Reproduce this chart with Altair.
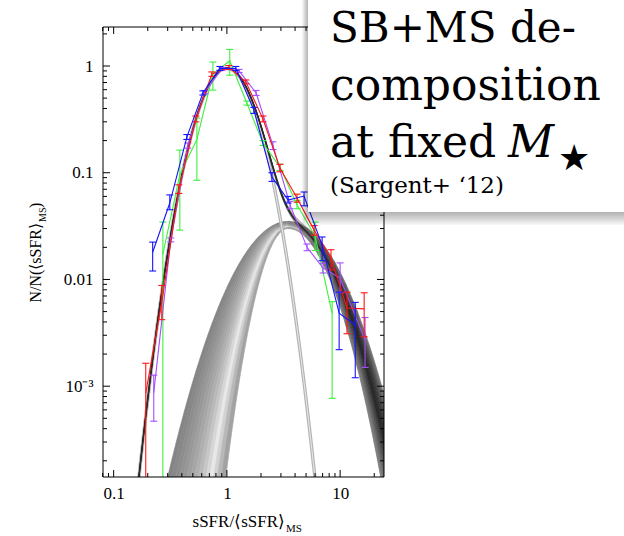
import numpy as np
import pandas as pd
import altair as alt

# ---------------- measured sSFR distributions ----------------
# x = sSFR/<sSFR>_MS, y = N/N(<sSFR>_MS), lo/hi = error-bar ends
blue_x  = [0.221, 0.313, 0.443, 0.614, 0.867, 1.20, 1.73, 2.50, 3.47, 4.80, 6.93, 9.8, 13.6]
blue_y  = [0.018, 0.052, 0.216, 0.56, 0.95, 0.95, 0.387, 0.091, 0.0555, 0.0605, 0.021, 0.00484, 0.00374]
blue_lo = [0.012, 0.045, 0.205, 0.535, 0.91, 0.91, 0.36, 0.083, 0.052, 0.049, 0.015, 0.0022, 0.0012]
blue_hi = [0.0224, 0.062, 0.228, 0.585, 0.99, 0.99, 0.41, 0.100, 0.060, 0.066, 0.025, 0.0076, 0.0061]

red_x  = [0.192, 0.266, 0.376, 0.532, 0.736, 1.04, 1.47, 2.08, 2.94, 4.16, 5.89, 8.3, 11.5, 16.3]
red_y  = [8.6e-4, 0.0061, 0.070, 0.32, 0.84, 0.97, 0.71, 0.32, 0.111, 0.058, 0.029, 0.0159, 0.0054, 0.0053]
red_lo = [1e-6, 0.0042, 0.064, 0.30, 0.80, 0.93, 0.68, 0.30, 0.102, 0.053, 0.026, 0.0123, 0.0031, 0.0029]
red_hi = [1.64e-3, 0.0088, 0.077, 0.34, 0.88, 1.01, 0.74, 0.34, 0.120, 0.063, 0.032, 0.019, 0.0076, 0.0075]

green_x  = [0.272, 0.384, 0.543, 0.752, 1.06, 1.50, 2.08, 2.94, 4.16, 6.01, 8.5]
green_y  = [0.0173, 0.096, 0.205, 0.84, 1.12, 0.45, 0.19, 0.113, 0.050, 0.0255, 0.0048]
green_lo = [1e-6, 0.029, 0.085, 0.595, 0.82, 0.43, 0.18, 0.105, 0.046, 0.0187, 7.7e-4]
green_hi = [0.0345, 0.163, 0.325, 1.09, 1.43, 0.47, 0.20, 0.120, 0.055, 0.0345, 0.0062]

purple_x  = [0.226, 0.319, 0.452, 0.638, 0.903, 1.28, 1.81, 2.55, 3.61, 5.1, 7.07, 10.0, 16.6]
purple_y  = [8.7e-4, 0.0234, 0.18, 0.57, 0.94, 0.90, 0.56, 0.18, 0.050, 0.020, 0.0128, 0.0103, 0.0027]
purple_lo = [4.7e-4, 0.0225, 0.17, 0.55, 0.91, 0.87, 0.53, 0.165, 0.046, 0.0186, 0.0115, 0.0075, 0.0015]
purple_hi = [1.27e-3, 0.0245, 0.19, 0.59, 0.97, 0.93, 0.59, 0.195, 0.054, 0.0215, 0.0142, 0.0143, 0.0044]

# ---------------- model components (log-normal in sSFR) ----------------
ms_peak, ms_amp, ms_sigma = 1.0, 0.95, 0.185          # main sequence, sigma in dex
sb_peak = 3.47                                         # starburst peak position
sb_amp       = [0.0350, 0.0347, 0.0343, 0.0340, 0.0337, 0.0333, 0.0330, 0.0327,
                0.0323, 0.0320, 0.0317, 0.0313, 0.0310, 0.0307, 0.0303, 0.0300]
sb_sig_left  = [0.320, 0.310, 0.300, 0.290, 0.280, 0.270, 0.260, 0.250,
                0.240, 0.230, 0.220, 0.210, 0.200, 0.190, 0.179, 0.168]
sb_sig_right = [0.310, 0.306, 0.302, 0.298, 0.294, 0.290, 0.286, 0.282,
                0.278, 0.274, 0.270, 0.266, 0.262, 0.258, 0.254, 0.250]
# grey shading of the starburst ribbon, outer -> inner strip
shade_left  = ["#848484", "#888888", "#8d8d8d", "#929292", "#989898", "#9f9f9f", "#a6a6a6", "#afafaf",
               "#b9b9b9", "#c6c6c6", "#d6d6d6", "#e8e8e8", "#d2d2d2", "#b8b8b8", "#a2a2a2"]
shade_right = ["#8c8c8c", "#7a7a7a", "#686868", "#585858", "#4a4a4a", "#3e3e3e", "#343434", "#2e2e2e",
               "#343434", "#3e3e3e", "#4c4c4c", "#5c5c5c", "#6c6c6c", "#7c7c7c", "#8c8c8c"]

# ---------------- axes ----------------
x_major = [0.1, 1, 10]
x_minor = [0.08, 0.09, 0.2, 0.3, 0.4, 0.5, 0.6, 0.7, 0.8, 0.9, 2, 3, 4, 5, 6, 7, 8, 9, 20]
y_major = [0.001, 0.01, 0.1, 1]
y_minor = [2e-4, 3e-4, 4e-4, 5e-4, 6e-4, 7e-4, 8e-4, 9e-4,
           2e-3, 3e-3, 4e-3, 5e-3, 6e-3, 7e-3, 8e-3, 9e-3,
           0.02, 0.03, 0.04, 0.05, 0.06, 0.07, 0.08, 0.09,
           0.2, 0.3, 0.4, 0.5, 0.6, 0.7, 0.8, 0.9, 2]
X_DOM = [0.0805, 24.4]
Y_DOM = [1.41e-4, 2.32]
W, H = 281, 450
SERIF = "Liberation Serif, Times New Roman, serif"
SLAB = "DejaVu Serif"


def lognormal(x, peak, amp, sig_l, sig_r):
    d = np.log10(x) - np.log10(peak)
    s = np.where(d < 0, sig_l, sig_r)
    return amp * np.exp(-0.5 * (d / s) ** 2)


def blend(c1, c2, w):
    a = [int(c1[k:k + 2], 16) for k in (1, 3, 5)]
    b = [int(c2[k:k + 2], 16) for k in (1, 3, 5)]
    return "#%02x%02x%02x" % tuple(int(round(p + (q - p) * w)) for p, q in zip(a, b))


lg = np.linspace(-1.12, 1.42, 509)
xs = 10 ** lg
ms = lognormal(xs, ms_peak, ms_amp, ms_sigma, ms_sigma)
sb = [lognormal(xs, sb_peak, a, sl, sr) for a, sl, sr in zip(sb_amp, sb_sig_left, sb_sig_right)]

# starburst ribbon: strips between neighbouring curves, coloured along x
seg_edges = [-1.12, 0.45, 0.55, 0.65, 0.75, 0.85, 0.95, 1.05, 1.15, 1.42]
rows = []
for i in range(len(sb) - 1):
    for j in range(len(seg_edges) - 1):
        b0, b1 = seg_edges[j], seg_edges[j + 1]
        idx = np.where((lg >= b0 - 0.006) & (lg <= b1 + 0.006))[0]
        mid = 0.5 * (b0 + b1)
        w = min(max((mid - 0.45) / 0.6, 0.0), 1.0)
        col = blend(shade_left[i], shade_right[i], w)
        for k in idx:
            hi_v, lo_v = sb[i][k], sb[i + 1][k]
            if hi_v < 1e-5:
                continue
            rows.append({"x": xs[k], "hi": hi_v, "lo": max(lo_v, 1e-7),
                         "key": f"{i:02d}-{j:02d}", "col": col})
strips = pd.DataFrame(rows)

tot_rows = []
for i, curve in enumerate(sb):
    tot = ms + curve
    for k in range(len(xs)):
        if tot[k] > 1e-5:
            tot_rows.append({"x": xs[k], "y": tot[k], "c": i})
totals = pd.DataFrame(tot_rows)
keep = (ms + sb[8]) > 1e-5
mean_total = pd.DataFrame({"x": xs[keep], "y": (ms + sb[8])[keep]})
keep_ms = ms > 1e-5
ms_df = pd.DataFrame({"x": xs[keep_ms], "y": ms[keep_ms]})

xscale = alt.Scale(type="log", domain=X_DOM, nice=False)
yscale = alt.Scale(type="log", domain=Y_DOM, nice=False)
xaxis = alt.Axis(values=x_major, format="~g", title=None, grid=False, ticks=False, domain=False,
                 labelFont=SERIF, labelFontSize=17, labelPadding=8, labelColor="black", labelFlush=False)
yaxis = alt.Axis(values=y_major, title=None, grid=False, ticks=False, domain=False,
                 labelExpr="datum.value < 0.005 ? '10⁻³' : format(datum.value, '~g')",
                 labelFont=SERIF, labelFontSize=17, labelPadding=10, labelColor="black")


def X(f):
    return alt.X(f, type="quantitative", scale=xscale, axis=xaxis)


def Y(f):
    return alt.Y(f, type="quantitative", scale=yscale, axis=yaxis, stack=None)


layers = []

layers.append(alt.Chart(strips).mark_area(clip=True, strokeWidth=0.7).encode(
    x=X("x"), y=Y("hi"), y2=alt.Y2("lo"),
    color=alt.Color("col:N", scale=None), stroke=alt.Stroke("col:N", scale=None),
    detail="key:N"))

layers.append(alt.Chart(ms_df).mark_line(clip=True, color="#b4b4b4", strokeWidth=3.4).encode(
    x=X("x"), y=Y("y")))
layers.append(alt.Chart(ms_df).mark_line(clip=True, color="#ececec", strokeWidth=1.0).encode(
    x=X("x"), y=Y("y")))

layers.append(alt.Chart(totals).mark_line(clip=True, color="black", strokeWidth=1.0, opacity=0.16).encode(
    x=X("x"), y=Y("y"), detail="c:N"))
layers.append(alt.Chart(mean_total).mark_line(clip=True, color="#2a2a2a", strokeWidth=1.5).encode(
    x=X("x"), y=Y("y")))

series = [
    ("#3ef03e", green_x, green_y, green_lo, green_hi),
    ("#a64dff", purple_x, purple_y, purple_lo, purple_hi),
    ("#ff1414", red_x, red_y, red_lo, red_hi),
    ("#1414ff", blue_x, blue_y, blue_lo, blue_hi),
]
for col, sx, sy, slo, shi in series:
    d = pd.DataFrame({"x": sx, "y": sy, "lo": slo, "hi": shi})
    base = alt.Chart(d)
    layers.append(base.mark_rule(clip=True, color=col, strokeWidth=1.1).encode(
        x=X("x"), y=Y("lo"), y2=alt.Y2("hi")))
    for end in ("lo", "hi"):
        layers.append(base.mark_tick(clip=True, color=col, orient="horizontal", size=7,
                                     thickness=1.1, opacity=1).encode(x=X("x"), y=Y(end)))
    layers.append(base.mark_line(clip=True, color=col, strokeWidth=1.1).encode(
        x=X("x"), y=Y("y")))

# inward ticks on all four sides
for vals, ln in ((x_major, 7), (x_minor, 4)):
    t = alt.Chart(pd.DataFrame({"v": vals}))
    layers.append(t.mark_rule(color="black", strokeWidth=1).encode(
        x=X("v"), y=alt.value(H), y2=alt.value(H - ln)))
    layers.append(t.mark_rule(color="black", strokeWidth=1).encode(
        x=X("v"), y=alt.value(0), y2=alt.value(ln)))
for vals, ln in ((y_major, 7), (y_minor, 4)):
    t = alt.Chart(pd.DataFrame({"v": vals}))
    layers.append(t.mark_rule(color="black", strokeWidth=1).encode(
        y=Y("v"), x=alt.value(0), x2=alt.value(ln)))
    layers.append(t.mark_rule(color="black", strokeWidth=1).encode(
        y=Y("v"), x=alt.value(W), x2=alt.value(W - ln)))

one = alt.Chart(pd.DataFrame({"k": [0]}))
layers.append(one.mark_rect(filled=False, stroke="black", strokeWidth=1).encode(
    x=alt.value(0), x2=alt.value(W), y=alt.value(0), y2=alt.value(H)))

# axis titles
layers.append(one.mark_text(text="sSFR/⟨sSFR⟩", font=SERIF, fontSize=17, align="right",
                            baseline="alphabetic", color="black").encode(
    x=alt.value(182), y=alt.value(500)))
layers.append(one.mark_text(text="MS", font=SERIF, fontSize=11, align="left",
                            baseline="alphabetic", color="black").encode(
    x=alt.value(183), y=alt.value(505)))
layers.append(one.mark_text(text="N/N(⟨sSFR⟩", font=SERIF, fontSize=16, align="right", angle=270,
                            baseline="alphabetic", color="black").encode(
    x=alt.value(-62), y=alt.value(196)))
layers.append(one.mark_text(text="MS", font=SERIF, fontSize=10, align="left", angle=270,
                            baseline="alphabetic", color="black").encode(
    x=alt.value(-57), y=alt.value(195)))
layers.append(one.mark_text(text=")", font=SERIF, fontSize=16, align="left", angle=270,
                            baseline="alphabetic", color="black").encode(
    x=alt.value(-62), y=alt.value(181)))

# caption panel with soft drop shadow
for k in range(10, 0, -1):
    layers.append(one.mark_rect(color="black", opacity=0.03).encode(
        x=alt.value(205 - k * 0.6), x2=alt.value(W + 240), y=alt.value(-27), y2=alt.value(185 + k * 1.3)))
layers.append(one.mark_rect(color="white").encode(
    x=alt.value(205), x2=alt.value(W + 240), y=alt.value(-27), y2=alt.value(185)))

for txt, yy, fs in (("SB+MS de-", 15, 42), ("composition", 73, 44), ("at fixed", 130, 44),
                    ("(Sargent+ ‘12)", 166, 23)):
    layers.append(one.mark_text(text=txt, font=SLAB, fontSize=fs, align="left",
                                baseline="alphabetic", color="black").encode(
        x=alt.value(227), y=alt.value(yy)))
layers.append(one.mark_text(text="M", font=SLAB, fontSize=45, fontStyle="italic", align="left",
                            baseline="alphabetic", color="black").encode(
    x=alt.value(405), y=alt.value(130)))
layers.append(one.mark_text(text="★", font="DejaVu Sans", fontSize=36, align="left",
                            baseline="middle", color="black").encode(
    x=alt.value(455), y=alt.value(132)))

chart = alt.layer(*layers).properties(
    width=W, height=H,
    padding={"left": 103, "top": 27, "right": 240, "bottom": 59},
    autosize=alt.AutoSizeParams(type="none"),
    background="white",
).configure_view(stroke=None)

chart.save("out.html", embed_options={"renderer": "svg", "actions": False})
